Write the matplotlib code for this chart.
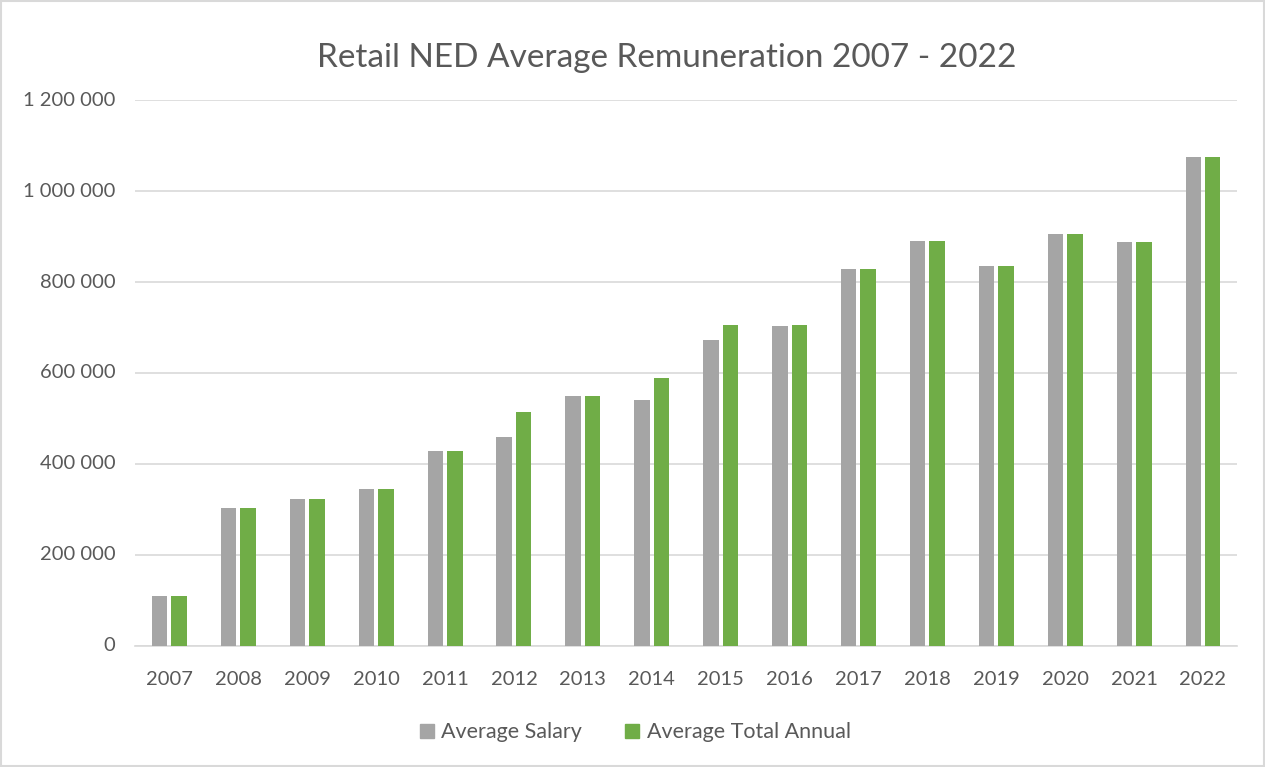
import matplotlib.pyplot as plt
import matplotlib.patches as mpatches
import numpy as np
from matplotlib.ticker import FuncFormatter

# Data
years = ["2007", "2008", "2009", "2010", "2011", "2012", "2013", "2014",
         "2015", "2016", "2017", "2018", "2019", "2020", "2021", "2022"]
avg_salary = [110000, 303000, 323000, 346000, 428000, 459000, 549000, 541000,
              672000, 704000, 828000, 891000, 835000, 905000, 889000, 1075000]
avg_total = [110000, 303000, 323000, 346000, 428000, 514000, 549000, 590000,
             705000, 705000, 828000, 891000, 835000, 905000, 889000, 1075000]

GREY = "#a5a5a5"
GREEN = "#70ad47"
TEXT = "#595959"
GRID = "#d9d9d9"

plt.rcParams['font.family'] = ['Lato', 'DejaVu Sans']

fig = plt.figure(figsize=(12.65, 7.67), dpi=100)
ax = fig.add_axes([0.1067, 0.1578, 0.8715, 0.7118])

x = np.arange(len(years))
w = 0.225
off = 0.141
ax.bar(x - off, avg_salary, w, color=GREY, label="Average Salary", zorder=3)
ax.bar(x + off, avg_total, w, color=GREEN, label="Average Total Annual", zorder=3)

ax.set_xlim(-0.5, len(years) - 0.5)
ax.set_ylim(0, 1200000)
ax.set_yticks(np.arange(0, 1200001, 200000))
ax.yaxis.set_major_formatter(FuncFormatter(lambda v, p: f"{int(v):,}".replace(",", " ")))
ax.set_xticks(x)
ax.set_xticklabels(years)

ax.grid(axis="y", color=GRID, linewidth=1.2, zorder=0)
for s in ["top", "right", "left"]:
    ax.spines[s].set_visible(False)
ax.spines["bottom"].set_color(GRID)
ax.spines["bottom"].set_linewidth(1.2)
ax.tick_params(axis="both", length=0, colors=TEXT, labelsize=14.5)
ax.tick_params(axis="x", pad=24)
ax.tick_params(axis="y", pad=14)
for lbl in ax.get_xticklabels():
    lbl.set_va("center")
for lbl in ax.get_yticklabels():
    lbl.set_va("center")

fig.text(0.527, 0.925, "Retail NED Average Remuneration 2007 - 2022",
         ha="center", va="center", fontsize=24, color=TEXT)

handles = [mpatches.Patch(color=GREY, label="Average Salary"),
           mpatches.Patch(color=GREEN, label="Average Total Annual")]
fig.legend(handles=handles, loc="center", bbox_to_anchor=(0.502, 0.045), ncol=2,
           frameon=False, fontsize=15.5, labelcolor=TEXT, handlelength=0.65,
           handleheight=0.65, handletextpad=0.35, columnspacing=2.0)

# chart border
fig.add_artist(mpatches.Rectangle((0.001, 0.001), 0.998, 0.998, transform=fig.transFigure,
                                  fill=False, edgecolor=GRID, linewidth=1.5))

fig.savefig("out.png", dpi=100)
